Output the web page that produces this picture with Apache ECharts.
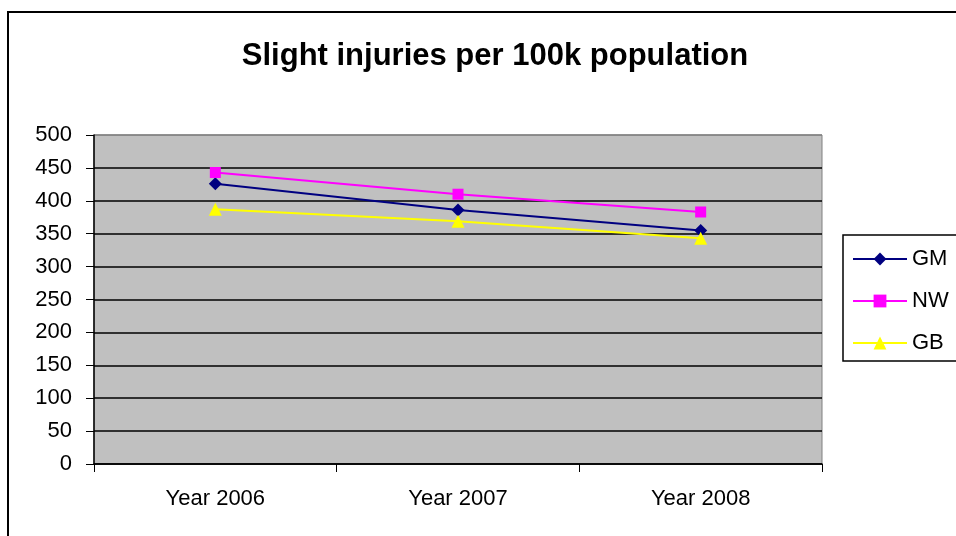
<!DOCTYPE html>
<html>
<head>
<meta charset="utf-8">
<script src="https://cdn.jsdelivr.net/npm/echarts@6/dist/echarts.min.js"></script>
<style>
  html, body { margin: 0; padding: 0; background: #fff; }
  #main { width: 956px; height: 536px; }
</style>
</head>
<body>
<div id="main"></div>
<script>
// data
var years = ['Year 2006', 'Year 2007', 'Year 2008'];
var gm = [426, 386, 355];
var nw = [443, 410, 383];
var gb = [387, 369, 343];

var myChart = echarts.init(document.getElementById('main'));

// top split line is grey (plot border), the others black
var splitColors = ['#000', '#000', '#000', '#000', '#000', '#000', '#000', '#000', '#000', '#000', '#808080'];

var option = {
  backgroundColor: '#fff',
  textStyle: { fontFamily: 'Liberation Sans, Arial, sans-serif' },
  graphic: [{
    type: 'rect',
    shape: { x: 8, y: 12, width: 960, height: 540 },
    style: { fill: 'none', stroke: '#000', lineWidth: 2 },
    silent: true
  }],
  title: {
    text: 'Slight injuries per 100k population',
    left: 490,
    textAlign: 'center',
    top: 36,
    textStyle: { fontSize: 31, fontWeight: 'bold', color: '#000', fontFamily: 'Liberation Sans, Arial, sans-serif' }
  },
  legend: {
    orient: 'vertical',
    left: 843,
    top: 235,
    padding: [13, 60, 7, 9],
    itemGap: 20,
    itemWidth: 54,
    itemHeight: 16,
    borderColor: '#000',
    borderWidth: 1.5,
    textStyle: { fontSize: 22, color: '#000' },
    data: ['GM', 'NW', 'GB']
  },
  grid: {
    left: 94,
    right: 134,
    top: 135,
    bottom: 72,
    show: true,
    backgroundColor: '#C0C0C0',
    borderColor: '#808080',
    borderWidth: 1
  },
  xAxis: {
    type: 'category',
    data: years,
    boundaryGap: true,
    axisLine: { lineStyle: { color: '#000', width: 1.5 } },
    axisTick: { show: true, length: 8, lineStyle: { color: '#000' } },
    axisLabel: { fontSize: 22, color: '#000', margin: 24 },
    splitLine: { show: false }
  },
  yAxis: {
    type: 'value',
    min: 0,
    max: 500,
    interval: 50,
    axisLine: { show: true, lineStyle: { color: '#000', width: 1.5 } },
    axisTick: { show: true, length: 8, lineStyle: { color: '#000' } },
    axisLabel: { fontSize: 22, color: '#000', margin: 22 },
    splitLine: { show: true, lineStyle: { color: splitColors, width: 1.5 } }
  },
  series: [{
    name: 'GM',
    type: 'line',
    data: gm,
    symbol: 'diamond',
    symbolSize: 13,
    itemStyle: { color: '#000080' },
    lineStyle: { color: '#000080', width: 2 }
  }, {
    name: 'NW',
    type: 'line',
    data: nw,
    symbol: 'rect',
    symbolSize: 11,
    itemStyle: { color: '#FF00FF' },
    lineStyle: { color: '#FF00FF', width: 2 }
  }, {
    name: 'GB',
    type: 'line',
    data: gb,
    symbol: 'triangle',
    symbolSize: 13,
    itemStyle: { color: '#FFFF00' },
    lineStyle: { color: '#FFFF00', width: 2 }
  }]
};

myChart.setOption(option);
</script>
</body>
</html>
